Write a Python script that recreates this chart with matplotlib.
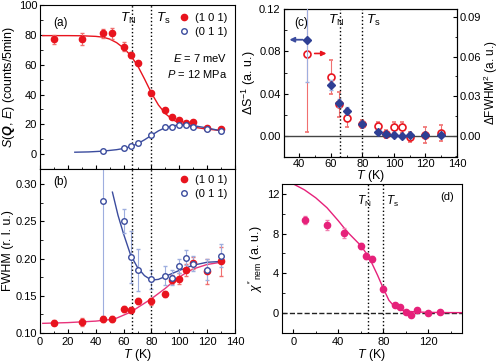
import matplotlib
matplotlib.use("Agg")
import matplotlib.pyplot as plt
import numpy as np
from matplotlib.lines import Line2D
from matplotlib.ticker import MultipleLocator, FormatStrFormatter

plt.rcParams['font.family'] = ['Liberation Sans', 'DejaVu Sans']
plt.rcParams['mathtext.fontset'] = 'custom'
plt.rcParams['mathtext.rm'] = 'Liberation Sans'
plt.rcParams['mathtext.it'] = 'Liberation Sans:italic'
plt.rcParams['mathtext.bf'] = 'Liberation Sans:bold:italic'
plt.rcParams['xtick.direction'] = 'in'
plt.rcParams['ytick.direction'] = 'in'
plt.rcParams['xtick.labelsize'] = 8
plt.rcParams['ytick.labelsize'] = 8
plt.rcParams['xtick.major.pad'] = 2.5
plt.rcParams['ytick.major.pad'] = 2
plt.rcParams['xtick.major.size'] = 3
plt.rcParams['ytick.major.size'] = 3
plt.rcParams['xtick.minor.size'] = 1.8
plt.rcParams['ytick.minor.size'] = 1.8
plt.rcParams['axes.linewidth'] = 0.8

RED = '#e8141e'
BLUE = '#3b4c9e'
LBLUE = '#9eaedf'
PINK = '#e8337a'
MAG = '#e6217a'
LABEL_FS = 9

TN, TS = 66, 80

# panel (a): S(Q,E)
T_a101 = [10, 30, 45, 52, 60, 65, 70, 80, 90, 95, 100, 105, 110, 120, 130]
S_a101 = [77.2, 77.2, 81, 81, 72, 66.4, 61.3, 40.7, 29.8, 25, 22.8, 20.8, 21.5, 17.8, 16.6]
E_a101 = [3, 4, 3, 3.5, 3, 2, 1.5, 1.5, 1.2, 1.2, 1.2, 1.2, 1.5, 1, 1.2]
T_a011 = [45, 60, 65, 70, 80, 90, 95, 100, 105, 110, 120, 130]
S_a011 = [2, 3.8, 5.6, 7.2, 12.7, 18.3, 18.3, 19.5, 19.5, 18.3, 17, 15.4]
E_a011 = [0.8, 0.8, 0.8, 0.8, 1, 1, 1, 1, 1, 1, 1, 1]
Tfit_a101 = [2, 10, 20, 30, 40, 45, 50, 55, 60, 65, 70, 75, 80, 85, 90, 95, 100, 105, 110, 120, 130]
Sfit_a101 = [79.5, 79.5, 79.5, 79.4, 79.0, 78.5, 77.2, 74.8, 71.2, 66.3, 59.5, 50.5, 41, 33, 27.2, 23.3, 20.8, 19.2, 18.1, 16.8, 15.8]
Tfit_a011 = [25, 35, 45, 55, 60, 65, 70, 75, 80, 85, 90, 95, 100, 105, 110, 120, 130]
Sfit_a011 = [1.3, 1.5, 2.0, 3.0, 3.8, 5.0, 7.0, 9.6, 12.6, 15.6, 17.8, 19.0, 19.5, 19.5, 19.1, 17.6, 15.6]

# panel (b): FWHM
T_b101 = [10, 30, 45, 52, 60, 65, 70, 80, 90, 95, 100, 105, 110, 120, 130]
W_b101 = [0.114, 0.115, 0.119, 0.119, 0.132, 0.131, 0.1425, 0.1425, 0.152, 0.1715, 0.173, 0.184, 0.194, 0.183, 0.196]
E_b101 = [0.003, 0.005, 0.004, 0.004, 0.004, 0.004, 0.004, 0.005, 0.004, 0.006, 0.007, 0.008, 0.008, 0.017, 0.019]
T_b011 = [45, 60, 65, 70, 80, 90, 95, 100, 105, 110, 120, 130]
W_b011 = [0.277, 0.250, 0.202, 0.185, 0.172, 0.177, 0.174, 0.190, 0.201, 0.193, 0.185, 0.204]
E_b011 = [0.155, 0.016, 0.035, 0.028, 0.013, 0.013, 0.010, 0.010, 0.010, 0.010, 0.014, 0.015]
Tfit_b101 = [2, 20, 40, 50, 55, 60, 65, 70, 75, 80, 85, 90, 95, 100, 105, 110, 120, 130]
Wfit_b101 = [0.113, 0.114, 0.116, 0.118, 0.120, 0.124, 0.128, 0.134, 0.140, 0.146, 0.153, 0.160, 0.168, 0.175, 0.181, 0.186, 0.192, 0.195]
Tfit_b011 = [52, 56, 60, 65, 70, 75, 80, 85, 90, 100, 110, 120, 130]
Wfit_b011 = [0.289, 0.258, 0.233, 0.205, 0.188, 0.177, 0.171, 0.172, 0.176, 0.184, 0.191, 0.195, 0.196]

# panel (c)
T_c = [45, 60, 65, 70, 80, 90, 95, 100, 105, 110, 120, 130]
dS = [0.091, 0.048, 0.031, 0.024, 0.011, 0.004, 0.002, 0.001, 0.000, 0.001, 0.001, 0.001]
dS_err = [0.040, 0.005, 0.004, 0.003, 0.003, 0.002, 0.002, 0.002, 0.002, 0.002, 0.002, 0.002]
dW = [0.0622, 0.0448, 0.0240, 0.0136, 0.0088, 0.0072, 0.0016, 0.0064, 0.0064, -0.0008, 0.0008, 0.0024]
dW_err = [0.059, 0.013, 0.0096, 0.007, 0.003, 0.003, 0.003, 0.004, 0.004, 0.004, 0.006, 0.006]

# panel (d)
T_d = [10, 30, 45, 60, 65, 70, 80, 90, 95, 100, 105, 110, 120, 130]
chi = [9.37, 8.87, 8.1, 6.74, 5.73, 5.4, 2.47, 0.78, 0.58, 0.1, -0.16, 0.35, -0.03, 0.07]
chi_err = [0.4, 0.5, 0.5, 0.3, 0.3, 0.3, 0.3, 0.2, 0.2, 0.2, 0.2, 0.2, 0.2, 0.2]
Tfit_d = [0, 10, 20, 30, 40, 45, 50, 60, 65, 70, 75, 80, 85, 90, 95, 100, 110, 120, 135, 150]
chifit_d = [13.0, 12.4, 11.6, 10.6, 9.3, 8.6, 7.95, 6.8, 6.0, 5.0, 3.8, 2.5, 1.3, 0.65, 0.35, 0.2, 0.12, 0.08, 0.06, 0.05]

fig = plt.figure(figsize=(5, 3.62), dpi=100)
axa = fig.add_axes([0.080, 0.533, 0.390, 0.453])
axb = fig.add_axes([0.080, 0.080, 0.390, 0.453])
axc = fig.add_axes([0.567, 0.566, 0.347, 0.409])
axd = fig.add_axes([0.564, 0.080, 0.360, 0.412])

# legend proxies (markers only, as in the figure)
h101 = Line2D([], [], ls='none', marker='o', ms=4.5, color=RED)
h011 = Line2D([], [], ls='none', marker='o', ms=4, mfc='white', mec=BLUE, mew=1)
leg_kw = dict(loc='upper right', frameon=False, fontsize=8, handletextpad=0.5,
              borderaxespad=0.3, labelspacing=0.35, handlelength=1.0)

# ---- (a)
axa.plot(Tfit_a101, Sfit_a101, color=RED, lw=1)
axa.plot(Tfit_a011, Sfit_a011, color=BLUE, lw=1)
axa.errorbar(T_a101, S_a101, yerr=E_a101, fmt='o', ms=4.5, color=RED, ecolor='#f07070', elinewidth=0.8, capsize=1.5)
axa.errorbar(T_a011, S_a011, yerr=E_a011, fmt='o', ms=4, mfc='white', mec=BLUE, mew=1, color=BLUE, ecolor=LBLUE, elinewidth=0.8, capsize=1.5)
axa.set_xlim(0, 140)
axa.set_ylim(-10, 100)
axa.xaxis.set_major_locator(MultipleLocator(20))
axa.xaxis.set_minor_locator(MultipleLocator(10))
axa.yaxis.set_major_locator(MultipleLocator(20))
axa.yaxis.set_minor_locator(MultipleLocator(10))
axa.tick_params(labelbottom=False)
axa.set_ylabel(r'$S$($\mathbf{Q}$, $E$) (counts/5min)', fontsize=LABEL_FS, labelpad=1)
axa.text(0.07, 0.93, '(a)', transform=axa.transAxes, fontsize=8.5, va='top')
axa.text(57.5, 91, r'$T_{\rm N}$', fontsize=9.5, va='center')
axa.text(83, 91, r'$T_{\rm s}$', fontsize=9.5, va='center')
axa.legend([h101, h011], ['(1 0 1)', '(0 1 1)'], bbox_to_anchor=(1.0, 1.0), **leg_kw)
axa.text(0.96, 0.68, r'$E$ = 7 meV', transform=axa.transAxes, fontsize=8, ha='right', va='center')
axa.text(0.96, 0.58, r'$P$ = 12 MPa', transform=axa.transAxes, fontsize=8, ha='right', va='center')

# ---- (b)
axb.plot(Tfit_b101, Wfit_b101, color=PINK, lw=1)
axb.plot(Tfit_b011, Wfit_b011, color=BLUE, lw=1)
axb.errorbar(T_b101, W_b101, yerr=E_b101, fmt='o', ms=4.5, color=RED, ecolor='#f07070', elinewidth=0.8, capsize=1.5)
axb.errorbar(T_b011, W_b011, yerr=E_b011, fmt='o', ms=4, mfc='white', mec=BLUE, mew=1, color=BLUE, ecolor=LBLUE, elinewidth=0.8, capsize=1.5)
axb.set_xlim(0, 140)
axb.set_ylim(0.10, 0.32)
axb.xaxis.set_major_locator(MultipleLocator(20))
axb.xaxis.set_minor_locator(MultipleLocator(10))
axb.yaxis.set_major_locator(MultipleLocator(0.05))
axb.yaxis.set_minor_locator(MultipleLocator(0.025))
axb.set_ylabel('FWHM (r. l. u.)', fontsize=LABEL_FS, labelpad=1)
axb.set_xlabel(r'$T$ (K)', fontsize=LABEL_FS, labelpad=0)
axb.text(0.07, 0.96, '(b)', transform=axb.transAxes, fontsize=8.5, va='top')
axb.legend([h101, h011], ['(1 0 1)', '(0 1 1)'], bbox_to_anchor=(1.0, 1.01), **leg_kw)

for ax in (axa, axb):
    ax.axvline(TN, color='k', ls=':', lw=1)
    ax.axvline(TS, color='k', ls=':', lw=1)

# ---- (c)
axc2 = axc.twinx()
axc.axhline(0, color='#444444', lw=1)
axc.axvline(TN, color='k', ls=':', lw=1)
axc.axvline(TS, color='k', ls=':', lw=1)
axc2.errorbar(T_c, dW, yerr=dW_err, fmt='o', ms=5, mfc='white', mec=RED, mew=1.2, ecolor='#f07070', elinewidth=0.8, capsize=1.5, zorder=3)
axc.errorbar(T_c, dS, yerr=dS_err, fmt='D', ms=3.8, color='#2e3f94', ecolor=LBLUE, elinewidth=0.8, capsize=1.5, zorder=4)
axc.set_zorder(axc2.get_zorder() + 1)
axc.patch.set_visible(False)
axc.set_xlim(30, 140)
axc.set_ylim(-0.02, 0.12)
axc2.set_ylim(-0.016, 0.096)
axc.xaxis.set_major_locator(MultipleLocator(20))
axc.xaxis.set_minor_locator(MultipleLocator(10))
axc.yaxis.set_major_locator(MultipleLocator(0.04))
axc.yaxis.set_minor_locator(MultipleLocator(0.02))
axc.yaxis.set_major_formatter(FormatStrFormatter('%.2f'))
axc2.yaxis.set_major_locator(MultipleLocator(0.03))
axc2.yaxis.set_minor_locator(MultipleLocator(0.015))
axc2.yaxis.set_major_formatter(FormatStrFormatter('%.2f'))
axc2.tick_params(axis='y', which='both', direction='in', labelsize=8, pad=2)
axc.tick_params(axis='x', pad=1.5)
axc.set_xlabel(r'$T$ (K)', fontsize=LABEL_FS, labelpad=-1)
axc.set_ylabel(r'$\Delta$S$^{-1}$ (a. u.)', fontsize=LABEL_FS, labelpad=1)
axc2.set_ylabel(r'$\Delta$FWHM$^2$ (a. u.)', fontsize=8.5, labelpad=0.5)
axc.text(37, 0.107, '(c)', fontsize=8.5, va='center')
axc.text(58, 0.109, r'$T_{\rm N}$', fontsize=9.5, va='center')
axc.text(82, 0.109, r'$T_{\rm s}$', fontsize=9.5, va='center')
axc.annotate('', xy=(32, dS[0]), xytext=(44, dS[0]),
             arrowprops=dict(arrowstyle='-|>', color=BLUE, lw=1.3, mutation_scale=7))
axc.annotate('', xy=(59, 0.078), xytext=(48, 0.078),
             arrowprops=dict(arrowstyle='-|>', color=RED, lw=1.2, mutation_scale=7))

# ---- (d)
axd.axhline(0, color='#222222', ls='--', lw=1)
axd.axvline(TN, color='k', ls=':', lw=1)
axd.axvline(TS, color='k', ls=':', lw=1)
axd.plot(Tfit_d, chifit_d, color=MAG, lw=1)
axd.errorbar(T_d, chi, yerr=chi_err, fmt='o', ms=4.5, color=MAG, ecolor='#f080b0', elinewidth=0.8, capsize=1.5)
axd.set_xlim(-10, 150)
axd.set_ylim(-2, 13)
axd.xaxis.set_major_locator(MultipleLocator(40))
axd.xaxis.set_minor_locator(MultipleLocator(20))
axd.yaxis.set_major_locator(MultipleLocator(4))
axd.yaxis.set_minor_locator(MultipleLocator(2))
axd.set_xlabel(r'$T$ (K)', fontsize=LABEL_FS, labelpad=0)
axd.set_ylabel(r"$\chi''_{\rm nem}$ (a. u.)", fontsize=LABEL_FS, labelpad=1)
axd.text(57, 11.2, r'$T_{\rm N}$', fontsize=8.5, va='center')
axd.text(82, 11.2, r'$T_{\rm s}$', fontsize=8.5, va='center')
axd.text(137, 11.7, '(d)', fontsize=8, va='center', ha='center')

fig.savefig('out.png', dpi=100)
